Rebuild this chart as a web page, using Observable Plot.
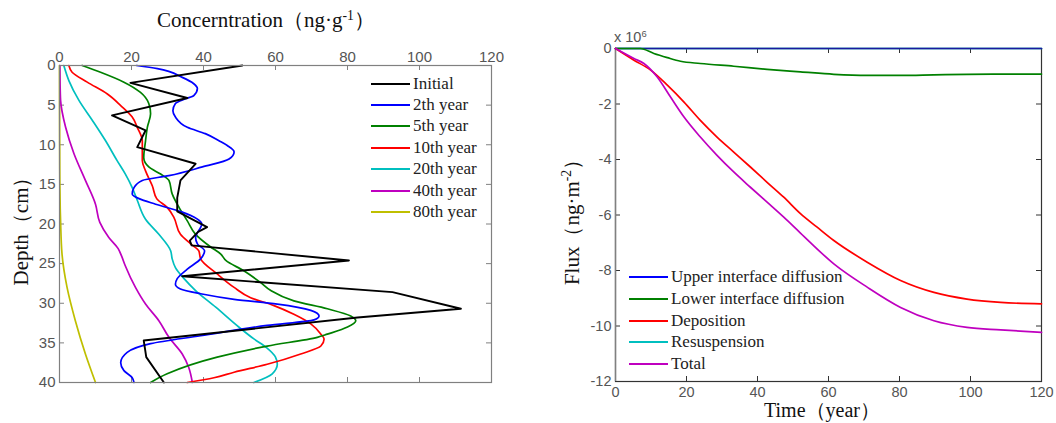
<!DOCTYPE html>
<html><head><meta charset="utf-8">
<script src="https://cdn.jsdelivr.net/npm/d3@7"></script>
<script src="https://cdn.jsdelivr.net/npm/@observablehq/plot@0.6"></script>
<style>
body{margin:0;background:#fff;}
#wrap{position:relative;width:1056px;height:423px;overflow:hidden;background:#fff;}
.abs{position:absolute;white-space:nowrap;line-height:1;}
.serif{font-family:"Liberation Serif","Times New Roman",serif;color:#111;}
.sans{font-family:"Liberation Sans",Arial,sans-serif;color:#555;}
sup{font-size:65%;vertical-align:0.55em;line-height:0;}
.leg{position:absolute;font-family:"Liberation Serif","Times New Roman",serif;font-size:17px;color:#222;white-space:nowrap;line-height:1;}
.leg span.ln{display:inline-block;width:39px;height:2px;vertical-align:middle;margin-right:3px;position:relative;top:-1px;}
.rot{transform:translate(-50%,-50%) rotate(-90deg);transform-origin:center;}
</style></head>
<body><div id="wrap"></div>
<script>
// ---------- Left panel: concentration profiles [depth (cm), concentration (ng/g)] ----------
const initialProfile = [[0,50.8],[2.2,19.7],[4.1,35.5],[6.3,14.6],[8.2,23.9],[10.3,21.6],[12.4,37.8],[14.5,33.6],[16.7,32.7],[18.4,32.7],[20.4,41],[21.0,38.5],[22.1,36.2],[22.7,36.7],[24.6,80.4],[26.6,34.1],[28.6,92.5],[30.7,111.5],[31.8,82.8],[34.7,23.4],[36.8,24.1],[40,29]];
const year2Profile = [[0,21.4],[0.4,27.2],[1.5,34.1],[2.3,37.3],[2.9,38.3],[3.8,37.3],[4.2,35],[4.8,32.2],[5.7,31.5],[6.5,32.2],[7.8,35.5],[8.6,40.5],[9.5,44.3],[10.1,46.6],[10.9,48.5],[11.8,47.1],[12.8,39.7],[13.9,30.4],[14.5,23],[15.4,20.7],[16.2,20.2],[16.8,22.1],[17.5,26.7],[18.5,34.1],[20,39.5],[21.7,37.8],[22.5,38.3],[23.4,40.3],[24.4,39.2],[25.7,35.5],[26.9,32.7],[27.6,32.2],[28.2,33.6],[28.8,39.2],[29.5,48.5],[30.1,60.5],[30.9,69.8],[31.6,72.1],[32.1,70.7],[32.8,57.7],[34.1,39.2],[35.1,25.3],[36.2,18.8],[37.5,17],[38.5,17.9],[39.4,20.2],[40,20.7]];
const year5Profile = [[0,6.3],[0.85,11.4],[2.1,17.9],[3.4,22.5],[4.8,24.8],[6.1,25.3],[7.8,24.4],[9.5,23.9],[11.6,23.4],[12.8,24.8],[13.7,28.1],[14.5,30.4],[16.2,31.3],[17.9,33.2],[19.6,35.5],[21.3,37.8],[22.9,42],[23.8,44.8],[24.6,46.2],[25.9,51.2],[27.4,55.9],[28.4,58.7],[29.7,65.1],[30.7,74.4],[31.6,80.9],[32.2,82.3],[33,80],[33.9,74.4],[34.3,71.6],[35.4,57.7],[36.8,43.8],[38.9,29.9],[40,25.3]];
const year10Profile = [[0,2.6],[0.85,3.5],[2.1,7.7],[3.6,13.3],[5.05,17],[6.5,20.2],[7.8,21.6],[9.5,23],[12,23],[13.3,23.9],[15.2,25.8],[16.8,27],[17.9,29.9],[19.2,31.8],[21.3,33.6],[22.5,36.4],[23.4,38.7],[24.4,39.2],[26.3,43.8],[28,48.5],[29.3,53.1],[30.3,59.6],[31.4,65.1],[32.6,69.8],[33.9,72.6],[34.5,73.5],[35.4,72.6],[36.4,67],[37.7,57.7],[38.7,48.5],[39.4,42.9],[40,35.5]];
const year20Profile = [[0,1.2],[1.9,2.6],[4.4,5.4],[6.9,9.1],[9.5,12.8],[12,16],[13.7,18.3],[15.4,20.2],[17,21.6],[19.4,23.9],[21.3,27.6],[23.4,30.9],[24.4,31.3],[25.5,32.2],[26.9,34.6],[28.4,37.8],[30.5,43.4],[33,49.8],[34.5,54],[35.6,57.5],[36.8,60],[37.7,60.5],[38.9,59.1],[40,54]];
const year40Profile = [[0,0.1],[2,0.15],[4.4,0.3],[7.8,1.7],[11.1,4],[14.5,7.2],[17.5,10],[19.8,11.2],[21.7,13.7],[23.1,16.3],[24,17.2],[25.3,18.3],[28,21.1],[30.1,23.9],[32.2,27.6],[34.3,30.4],[36.4,34.1],[38.1,35.9],[40,36.9]];
const year80Profile = [[0,0],[10,0.05],[15,0.1],[18,0.2],[19.6,0.3],[23.8,0.7],[28,2.1],[32.2,4.4],[36.4,7.2],[40,10]];
const profileNames = ["Initial","2th year","5th year","10th year","20th year","40th year","80th year"];
const profileColors = ["#000000","#0000ff","#008000","#ff0000","#00bfbf","#bf00bf","#bfbf00"];
const profiles = [initialProfile, year2Profile, year5Profile, year10Profile, year20Profile, year40Profile, year80Profile];
const concTicks = [0,20,40,60,80,100,120];
const depthTicks = [0,5,10,15,20,25,30,35,40];

// ---------- Right panel: fluxes (x10^6 ng/m^2) vs time (year) ----------
const upperT = [0,120], upperF = [0,0];
const lowerT = [0,7,10.8,14.6,18.3,23.9,33.3,42.7,52.1,61.5,70.9,80.3,89.7,99,108.5,120];
const lowerF = [0,0,-0.18,-0.33,-0.46,-0.54,-0.64,-0.75,-0.84,-0.93,-0.97,-0.97,-0.95,-0.93,-0.92,-0.92];
const depoT = [0,5.2,9.9,14.6,19.3,23.9,28.6,33.3,38,42.7,47.4,52.1,56.8,61.5,70.9,80.3,89.7,99,108.5,120];
const depoF = [0,-0.42,-0.78,-1.32,-1.93,-2.59,-3.19,-3.73,-4.27,-4.82,-5.36,-5.95,-6.44,-6.92,-7.7,-8.36,-8.79,-9.03,-9.15,-9.2];
const resusT = [0,120], resusF = [0,0];
const totalT = [0,5.2,8,11.7,15.5,19.3,23.9,28.6,33.3,38,42.7,47.4,52.1,61.5,70.9,80.3,89.7,99,108.5,120];
const totalF = [0,-0.36,-0.54,-1.02,-1.75,-2.47,-3.19,-3.85,-4.45,-5,-5.54,-6.08,-6.65,-7.76,-8.6,-9.33,-9.81,-10.05,-10.14,-10.23];
const fluxNames = ["Upper interface diffusion","Lower interface diffusion","Deposition","Resuspension","Total"];
const fluxColors = ["#0000ff","#008000","#ff0000","#00bfbf","#bf00bf"];
const fluxSeries = [[upperT,upperF],[lowerT,lowerF],[depoT,depoF],[resusT,resusF],[totalT,totalF]];
const timeTicks = [0,20,40,60,80,100,120];
const fluxTicks = [0,-2,-4,-6,-8,-10,-12];

const wrap = document.getElementById("wrap");
const axisStyle = {fontFamily: "'Liberation Sans', Arial, sans-serif", fontSize: "15px", color: "#555", background: "transparent", overflow: "visible"};

// Left plot
const LH = 423, LT = 65, LB = 41;
const leftFrame = "#808080";
const leftLines = profiles.map((p, i) => Plot.line(p, {
  x: d => d[1], y: d => d[0], stroke: profileColors[i], strokeWidth: i === 0 ? 1.9 : 1.7,
  curve: i === 0 ? "linear" : "monotone-y"
}));
const leftPlot = Plot.plot({
  width: 540, height: LH, marginTop: LT, marginBottom: LB, marginLeft: 59, marginRight: 49,
  style: axisStyle,
  x: {domain: [0,120]},
  y: {domain: [0,40], reverse: true},
  marks: [
    Plot.axisX(concTicks, {anchor: "top", tickSize: 0, tickPadding: 4, label: null, fontSize: 15, tickFormat: d => String(d)}),
    Plot.axisY(depthTicks, {anchor: "left", tickSize: 0, tickPadding: 4, label: null, fontSize: 15, tickFormat: d => String(d)}),
    Plot.tickX(concTicks.slice(1,-1), {x: d => d, stroke: leftFrame, insetBottom: LH-LT-LB-5}),
    Plot.tickX(concTicks.slice(1,-1), {x: d => d, stroke: leftFrame, insetTop: LH-LT-LB-5}),
    Plot.tickY(depthTicks.slice(1,-1), {y: d => d, stroke: leftFrame, insetLeft: 540-59-49-5}),
    Plot.tickY(depthTicks.slice(1,-1), {y: d => d, stroke: leftFrame, insetRight: 540-59-49-5}),
    ...leftLines.slice().reverse(),
    Plot.frame({stroke: leftFrame, strokeWidth: 1.2})
  ]
});
leftPlot.style.position = "absolute"; leftPlot.style.left = "0px"; leftPlot.style.top = "0px";
wrap.appendChild(leftPlot);

// Right plot
const RW = 516, RH = 423, RT = 48, RB = 42, RL = 75, RR = 15;
const rightFrame = "#333";
const rightPlot = Plot.plot({
  width: RW, height: RH, marginTop: RT, marginBottom: RB, marginLeft: RL, marginRight: RR,
  style: axisStyle,
  x: {domain: [0,120]},
  y: {domain: [-12,0]},
  marks: [
    Plot.axisX(timeTicks, {anchor: "bottom", tickSize: 0, tickPadding: 5, label: null, fontSize: 14.5, tickFormat: d => String(d)}),
    Plot.axisY(fluxTicks, {anchor: "left", tickSize: 0, tickPadding: 4, label: null, fontSize: 14.5, tickFormat: d => String(d)}),
    Plot.tickX(timeTicks.slice(1,-1), {x: d => d, stroke: rightFrame, insetBottom: RH-RT-RB-5}),
    Plot.tickX(timeTicks.slice(1,-1), {x: d => d, stroke: rightFrame, insetTop: RH-RT-RB-5}),
    Plot.tickY(fluxTicks.slice(1,-1), {y: d => d, stroke: rightFrame, insetLeft: RW-RL-RR-5}),
    Plot.tickY(fluxTicks.slice(1,-1), {y: d => d, stroke: rightFrame, insetRight: RW-RL-RR-5}),
    Plot.frame({stroke: rightFrame, strokeWidth: 1.2}),
    Plot.ruleX([0], {stroke: "#808080", strokeWidth: 1.4}),
    ...[3,0,1,2,4].map(i => Plot.line(d3.range(fluxSeries[i][0].length), {
      x: j => fluxSeries[i][0][j], y: j => fluxSeries[i][1][j],
      stroke: i === 0 ? "#1a1aa0" : fluxColors[i], strokeWidth: 1.7, curve: "monotone-x"
    }))
  ]
});
rightPlot.style.position = "absolute"; rightPlot.style.left = "540px"; rightPlot.style.top = "0px";
wrap.appendChild(rightPlot);

// Text overlays
function addText(html, cls, css) {
  const d = document.createElement("div");
  d.className = "abs " + cls; d.innerHTML = html;
  Object.assign(d.style, css); wrap.appendChild(d); return d;
}
addText("Concerntration（ng·g<sup>-1</sup>）", "serif", {left: "266px", top: "10px", fontSize: "21px", transform: "translateX(-50%)"});
addText("Depth（cm）", "serif rot", {left: "21px", top: "226px", fontSize: "21px"});
addText("Flux（ng·m<sup>-2</sup>）", "serif rot", {left: "572px", top: "217px", fontSize: "21px"});
addText("Time（year）", "serif", {left: "822px", top: "400px", fontSize: "20px", transform: "translateX(-50%)"});
addText("x 10<sup>6</sup>", "sans", {left: "614px", top: "30px", fontSize: "14.5px"});

// Legends
function addLegend(names, colors, x, y0, step) {
  names.forEach((n, i) => {
    const d = document.createElement("div");
    d.className = "leg";
    d.style.left = x + "px"; d.style.top = (y0 + i*step - 9) + "px";
    d.innerHTML = `<span class="ln" style="background:${colors[i]}"></span>${n}`;
    wrap.appendChild(d);
  });
}
addLegend(profileNames, profileColors, 371, 83.5, 21.4);
addLegend(fluxNames, fluxColors, 629, 277, 21.8);
</script>
</body></html>
